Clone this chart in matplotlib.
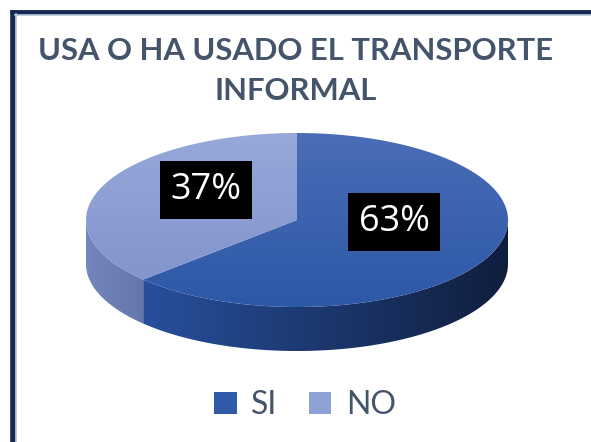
import numpy as np
import matplotlib
matplotlib.use("Agg")
import matplotlib.pyplot as plt
from matplotlib.patches import Polygon, Patch
from matplotlib.colors import to_rgb

# ---- data ----
categories = ["SI", "NO"]
values = [63, 37]
title = "USA O HA USADO EL TRANSPORTE\nINFORMAL"

# ---- styles / layout ----
top_colors = [("#4a6db6", "#2c58a7"), ("#97a8da", "#7e91c9")]
side_colors = [("#27509c", "#101e3e"), ("#7486bb", "#6476aa")]
legend_colors = ["#2f5aa8", "#8ea1d5"]
label_pos = [(394, 222), (206, 190)]
W, H = 591, 442
cx, cy, a, b, depth = 297, 220, 211, 87, 44

fig = plt.figure(figsize=(W / 100, H / 100), dpi=100)
ax = fig.add_axes([0, 0, 1, 1])
ax.set_xlim(0, W)
ax.set_ylim(H, 0)
ax.axis("off")


def ell(t):
    return cx + a * np.cos(t), cy - b * np.sin(t)


def grad_image(c1, c2, x0, x1, y0, y1, horizontal, clip):
    c1, c2 = np.array(to_rgb(c1)), np.array(to_rgb(c2))
    n = 256
    f = np.linspace(0, 1, n)
    g = c1[None, :] * (1 - f[:, None]) + c2[None, :] * f[:, None]
    if horizontal:
        img = g[None, :, :].repeat(2, axis=0)
    else:
        img = g[:, None, :].repeat(2, axis=1)
    im = ax.imshow(img, extent=(x0, x1, y1, y0), origin="upper",
                   aspect="auto", interpolation="bilinear", zorder=2)
    im.set_clip_path(clip)


# angles: first slice starts at 12 o'clock going clockwise
total = sum(values)
start = 90.0
angles = []
for v in values:
    end = start - 360.0 * v / total
    angles.append((end, start))
    start = end

# side walls (front half: angles between 180 and 360)
for i, (t0, t1) in enumerate(angles):
    segs = []
    for shift in (-360, 0, 360):
        s0, s1 = max(t0 + shift, 180), min(t1 + shift, 360)
        if s1 > s0:
            segs.append((s0, s1))
    for s0, s1 in segs:
        tt = np.radians(np.linspace(s0, s1, 200))
        x, y = ell(tt)
        pts = np.concatenate([np.c_[x, y], np.c_[x[::-1], y[::-1] + depth]])
        poly = Polygon(pts, closed=True, facecolor="none", edgecolor="none")
        ax.add_patch(poly)
        grad_image(side_colors[i][0], side_colors[i][1], x.min(), x.max(),
                   y.min(), y.max() + depth, True, poly)

# top surfaces
for i, (t0, t1) in enumerate(angles):
    tt = np.radians(np.linspace(t0, t1, 300))
    x, y = ell(tt)
    pts = np.concatenate([[[cx, cy]], np.c_[x, y]])
    poly = Polygon(pts, closed=True, facecolor="none", edgecolor="none")
    ax.add_patch(poly)
    grad_image(top_colors[i][0], top_colors[i][1], cx - a, cx + a,
               cy - b, cy + b, False, poly)

# labels
for i, v in enumerate(values):
    pct = round(100 * v / total)
    ax.text(label_pos[i][0], label_pos[i][1], f"{pct}%", color="white",
            fontsize=26, family="Open Sans", ha="center", va="center", zorder=5,
            bbox=dict(boxstyle="square,pad=0.3", facecolor="black",
                      edgecolor="none"))

# title
ax.text(296, 71, title, ha="center", va="center", fontsize=22.3,
        family="Lato", fontweight="bold", color="#44546a", linespacing=1.5,
        zorder=5)

# legend
handles = [Patch(facecolor=c, edgecolor="none") for c in legend_colors]
leg = fig.legend(handles, categories, loc="center",
                 bbox_to_anchor=(305 / W, 1 - 405 / H),
                 ncol=2, frameon=False, handlelength=0.7,
                 handleheight=0.7, handletextpad=0.45, columnspacing=1.0,
                 prop=dict(family="Lato", size=23))
for t in leg.get_texts():
    t.set_color("#44546a")

# frame
ax.plot([12.5, 12.5], [10, H], color="#15294f", lw=4, solid_capstyle="butt", zorder=6)
ax.plot([10, W], [12, 12], color="#15294f", lw=3.5, solid_capstyle="butt", zorder=6)
ax.plot([15.5, 15.5], [14, H], color="#b7c3d8", lw=1.2, zorder=6)
ax.plot([15, W], [14.6, 14.6], color="#b7c3d8", lw=1.2, zorder=6)

fig.savefig("out.png", dpi=100)
